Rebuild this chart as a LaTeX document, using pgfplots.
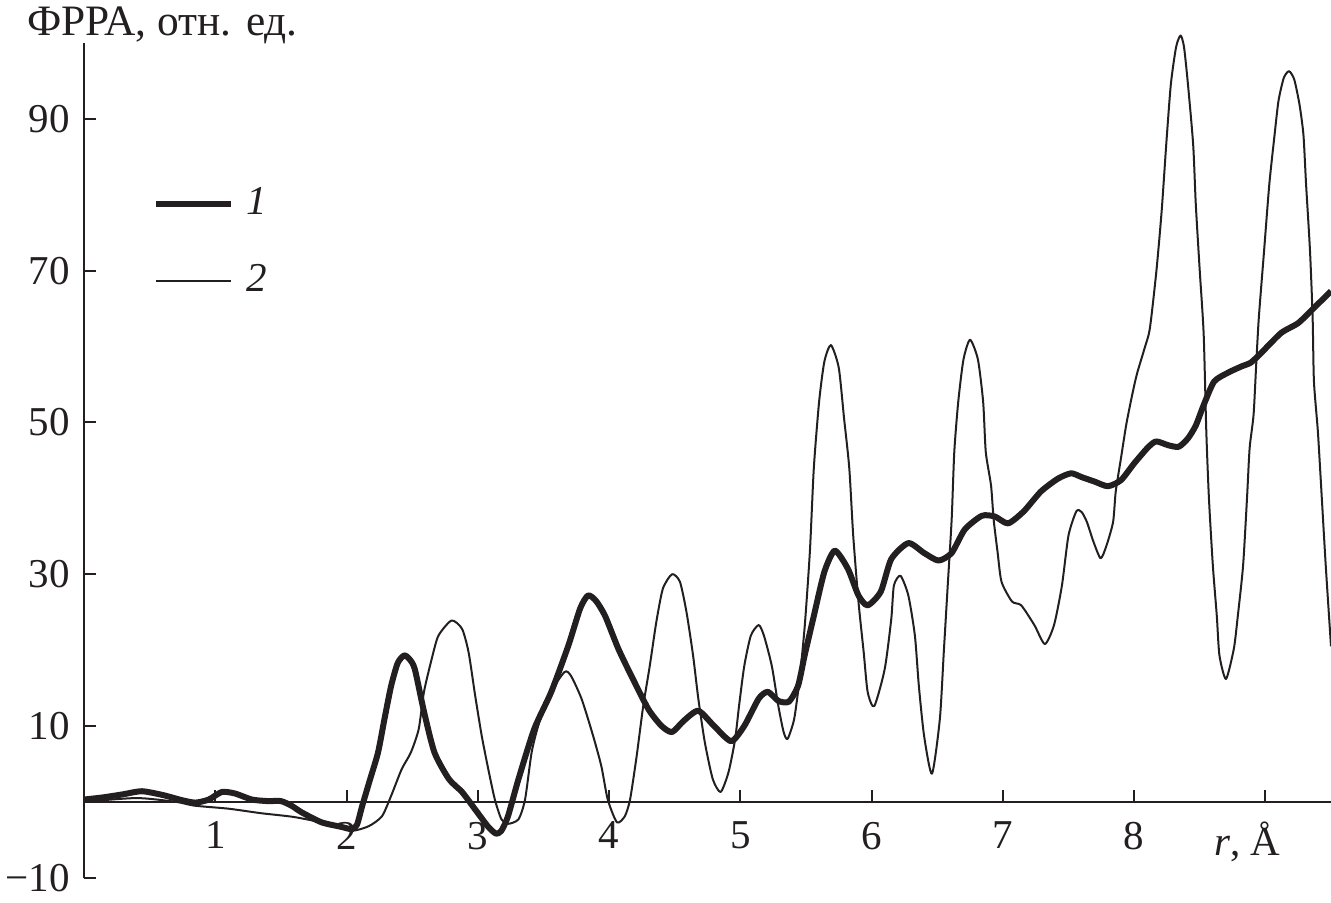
\documentclass[border=0pt]{standalone}
\usepackage{pgfplots}
\pgfplotsset{compat=1.18}
\usepackage{fontspec}
\setmainfont{Liberation Serif}
\definecolor{ink}{RGB}{35,31,32}
\begin{document}
\fontsize{20.5}{24}\selectfont
\begin{tikzpicture}
\begin{axis}[
  at={(0pt,0pt)}, anchor=south west,
  scale only axis, width=623.5pt, height=417.3pt,
  xmin=0, xmax=9.5, ymin=-10, ymax=100,
  axis lines=middle,
  axis line style={-, line width=1pt, color=ink},
  clip=false,
  xtick={1,2,3,4,5,6,7,8,9},
  xticklabels={1,2,3,4,5,6,7,8,{\llap{\textit{r}, }Å}},
  ytick={-10,10,30,50,70,90},
  yticklabels={−10,10,30,50,70,90},
  tick align=inside, major tick length=6pt,
  tick style={line width=1pt, color=ink},
  ticklabel style={text=ink},
  xticklabel style={yshift=-3pt},
  legend style={draw=none, fill=none, at={(axis cs:0.525,73.7)}, anchor=west,
    row sep=18pt, column sep=4pt, font=\itshape, inner sep=0pt, text=ink},
  legend cell align=left,
  legend image code/.code={\draw[#1] (0pt,0pt) -- (37.5pt,0pt);},
]
\addplot[ink, line width=3pt, line join=round, smooth, tension=0.4] coordinates {
(0,0.3) (0.15,0.6) (0.3,1.0) (0.44,1.4) (0.6,0.9) (0.75,0.2) (0.85,-0.1) (0.95,0.3) (1.05,1.3) (1.15,1.1) (1.28,0.3) (1.4,0.1) (1.5,0.1) (1.58,-0.5) (1.66,-1.4) (1.81,-2.7) (1.96,-3.3) (2.04,-3.6) (2.08,-3.0) (2.12,-0.5) (2.18,3.0) (2.24,6.5) (2.29,11) (2.34,15.3) (2.39,18.3) (2.44,19.3) (2.48,18.8) (2.52,17.5) (2.59,11.9) (2.67,6.5) (2.78,3.0) (2.88,1.3) (2.98,-1.0) (3.08,-3.3) (3.14,-4.2) (3.18,-3.8) (3.23,-1.9) (3.31,3.0) (3.43,9.6) (3.56,14.5) (3.69,20.6) (3.78,25.5) (3.84,27.2) (3.9,26.5) (3.97,24.5) (4.07,20.2) (4.17,16.6) (4.3,12.2) (4.4,10) (4.48,9.2) (4.57,10.7) (4.68,12) (4.8,10) (4.93,8) (5.03,10) (5.14,13.6) (5.21,14.5) (5.29,13.3) (5.37,13.2) (5.44,15.3) (5.49,19.3) (5.56,24.5) (5.64,30.3) (5.72,33.1) (5.82,30.7) (5.9,27.2) (5.97,25.9) (6.07,27.7) (6.15,32) (6.28,34.1) (6.4,32.8) (6.51,31.8) (6.61,32.8) (6.71,35.9) (6.84,37.7) (6.94,37.6) (7.04,36.7) (7.16,38.3) (7.29,40.9) (7.42,42.6) (7.52,43.3) (7.6,42.8) (7.7,42.2) (7.8,41.6) (7.9,42.4) (8,44.6) (8.11,46.8) (8.17,47.5) (8.26,47) (8.34,46.8) (8.41,47.9) (8.47,49.6) (8.53,52.3) (8.61,55.4) (8.72,56.6) (8.82,57.4) (8.89,57.9) (8.97,59.2) (9.12,61.8) (9.25,63.1) (9.37,65.1) (9.5,67.3)
};
\addlegendentry{1}
\addplot[ink, line width=1pt, line join=round, smooth, tension=0.4] coordinates {
(0,0) (0.4,0.5) (0.7,0) (0.84,-0.5) (1.1,-0.9) (1.35,-1.5) (1.6,-2.0) (1.86,-2.9) (2.04,-3.8) (2.17,-3.2) (2.27,-1.9) (2.34,0.8) (2.42,4.3) (2.49,6.5) (2.55,9.6) (2.59,14.5) (2.65,18.9) (2.7,21.9) (2.8,23.9) (2.88,22.8) (2.93,19.7) (2.98,14) (3.03,8.7) (3.08,4.3) (3.13,0.3) (3.18,-2.3) (3.23,-2.9) (3.31,-2.3) (3.36,0.3) (3.41,6.5) (3.46,10) (3.54,14) (3.66,17.1) (3.71,16.6) (3.79,13.6) (3.87,9.2) (3.94,4.8) (3.99,0.3) (4.06,-2.7) (4.12,-1.9) (4.16,0.3) (4.21,6) (4.26,12.6) (4.31,17.9) (4.36,23.7) (4.41,28.1) (4.48,30) (4.54,29) (4.59,25) (4.64,19.3) (4.68,13.6) (4.73,7.8) (4.79,3) (4.85,1.3) (4.91,3.9) (4.96,8.2) (4.99,12.6) (5.03,17.9) (5.08,21.9) (5.14,23.3) (5.18,21.9) (5.24,17.9) (5.29,12.6) (5.33,9.2) (5.36,8.3) (5.41,10.9) (5.45,16) (5.49,23) (5.53,33) (5.56,44) (5.6,52.7) (5.64,58) (5.69,60.2) (5.75,57.2) (5.79,50.6) (5.83,44) (5.86,35.1) (5.9,26.4) (5.94,19.7) (5.97,14.5) (6.02,12.6) (6.1,17.5) (6.15,24.1) (6.17,28.5) (6.22,29.8) (6.28,27.2) (6.33,21.9) (6.36,15.3) (6.4,8.7) (6.46,3.7) (6.52,10.9) (6.55,19.7) (6.58,28.5) (6.61,37.2) (6.63,46.1) (6.66,52.7) (6.7,58.3) (6.75,60.9) (6.81,58.3) (6.85,52.7) (6.87,46.1) (6.91,41.7) (6.93,37.2) (6.96,32.9) (6.99,29) (7.07,26.4) (7.14,25.9) (7.24,23.3) (7.32,20.8) (7.39,23.3) (7.45,28.5) (7.5,35.1) (7.56,38.3) (7.6,38.2) (7.64,36.9) (7.69,34.3) (7.745,32.1) (7.79,33.8) (7.84,36.9) (7.86,40.9) (7.9,45.3) (7.94,49.7) (7.98,53.2) (8.02,56.3) (8.08,59.8) (8.12,62.4) (8.17,70) (8.21,77.9) (8.245,86.7) (8.28,94.6) (8.32,99.5) (8.354,101) (8.38,99.5) (8.41,94.6) (8.45,86.6) (8.47,78.7) (8.5,70) (8.53,61.6) (8.55,48.8) (8.57,40) (8.6,31.1) (8.63,24.5) (8.65,19.3) (8.7,16.2) (8.76,20.2) (8.79,24.5) (8.83,31.1) (8.86,40) (8.88,46.6) (8.91,51) (8.93,57.6) (8.95,63.8) (8.99,72.6) (9.03,81.4) (9.07,87.9) (9.1,92.4) (9.14,95.4) (9.18,96.3) (9.22,95.2) (9.26,91.9) (9.29,87.9) (9.31,81.4) (9.34,72.6) (9.36,63.8) (9.37,55.4) (9.4,48.8) (9.43,40) (9.46,31.1) (9.5,20.5)
};
\addlegendentry{2}
\node[anchor=base west, inner sep=0pt, text=ink, xshift=-28.5pt, yshift=4pt, font=\fontsize{21.7}{25}\selectfont] at (rel axis cs:0,1) {ФРРА, отн. ед.};
\end{axis}
\pgfresetboundingbox
\path[use as bounding box] (-42pt,-12.15pt) rectangle (623.5pt,438.85pt);
\end{tikzpicture}
\end{document}
